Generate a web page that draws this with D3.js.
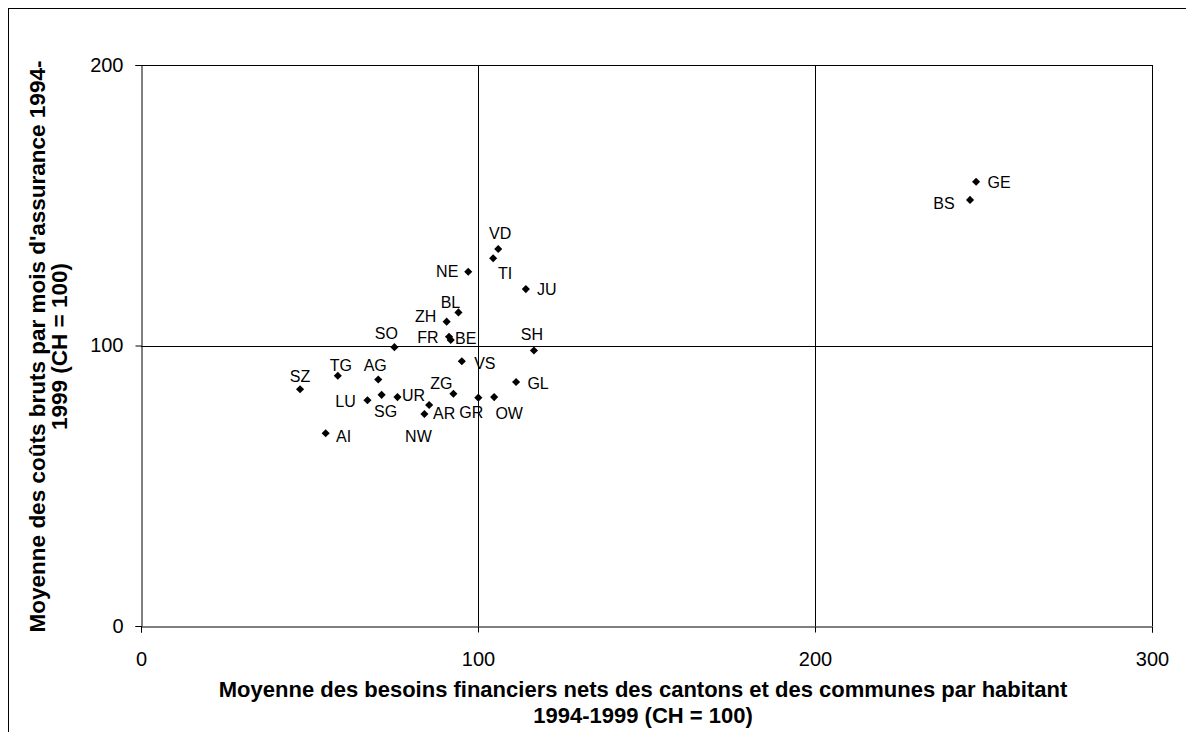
<!DOCTYPE html>
<html><head><meta charset="utf-8">
<script src="https://cdn.jsdelivr.net/npm/d3@7"></script>
<style>body{margin:0;background:#fff}svg{display:block}text{font-family:Arial,"Liberation Sans",sans-serif;fill:#000}</style>
</head><body><svg id="c" width="1186" height="732"></svg>
<script>
const cantons = ["VD","TI","NE","JU","BL","ZH","FR","BE","SO","SH","VS","TG","AG","SZ","GL","ZG","LU","SG","UR","GR","OW","AR","NW","AI","GE","BS"];
const besoins = [106.0,104.5,97.1,114.2,94.2,90.7,91.4,91.9,75.2,116.6,95.2,58.4,70.4,47.2,111.3,92.7,67.2,71.4,76.1,100.1,104.8,85.5,84.1,54.8,247.8,246.0];
const couts   = [134.4,131.1,126.3,120.1,111.8,108.5,103.1,102.0,99.4,98.2,94.4,89.2,87.9,84.4,87.0,82.8,80.5,82.4,81.6,81.4,81.6,78.8,75.6,68.7,158.4,151.9];
const xTicks = [0,100,200,300];
const yTicks = [0,100,200];
const xTitle = ["Moyenne des besoins financiers nets des cantons et des communes par habitant","1994-1999 (CH = 100)"];
const yTitle = ["Moyenne des coûts bruts par mois d'assurance 1994-","1999 (CH = 100)"];

// label placement (dx, dy from marker)
const labelPos = {VD:[2,-16],TI:[12,15],NE:[-21,0],JU:[21,0],BL:[-8,-10],ZH:[-21,-5],FR:[-21,0],BE:[15,-2],SO:[-8,-14],SH:[-2,-16],VS:[23,2],TG:[3,-11],AG:[-3,-14],SZ:[0,-13],GL:[22,1],ZG:[-12,-11],LU:[-22,1],SG:[4,16],UR:[16,-2],GR:[-7,15],OW:[15,16],AR:[15,8],NW:[-6,22],AI:[18,3],GE:[23,1],BS:[-26,3]};

const svg = d3.select("#c");
const L=141,R=1152,T=65,B=626;
const x = d3.scaleLinear().domain([0,300]).range([L,R]);
const y = d3.scaleLinear().domain([0,200]).range([B,T]);
const FONT = "Arial,'Liberation Sans',sans-serif";

// outer frame
svg.append("rect").attr("x",8.5).attr("y",8.5).attr("width",1200).attr("height",800).attr("fill","none").attr("stroke","#000").attr("stroke-width",1);

// grid
const g = svg.append("g");
g.selectAll(".hg").data([100,200]).enter().append("line").attr("x1",L).attr("x2",R).attr("y1",d=>Math.round(y(d))+0.5).attr("y2",d=>Math.round(y(d))+0.5).attr("stroke","#000");
g.selectAll(".vg").data([100,200,300]).enter().append("line").attr("y1",T).attr("y2",B).attr("x1",d=>Math.round(x(d))+0.5).attr("x2",d=>Math.round(x(d))+0.5).attr("stroke","#000");

// axes
const xa = svg.append("g").attr("transform",`translate(0,${B+0.5})`).call(d3.axisBottom(x).tickValues(xTicks).tickSize(6).tickPadding(19).tickFormat(d3.format("d")));
const ya = svg.append("g").attr("transform",`translate(${L+0.5},0)`).call(d3.axisLeft(y).tickValues(yTicks).tickSize(6).tickPadding(12).tickFormat(d3.format("d")));
[xa,ya].forEach(a=>{
  a.attr("font-size",20).attr("font-family",FONT);
  a.select(".domain").attr("stroke","#000");
  a.selectAll("line").attr("stroke","#000");
  a.selectAll("text").style("font-size","20px").style("font-family",FONT).attr("fill","#000");
});

// titles
svg.append("g").selectAll("text").data(xTitle).enter().append("text")
  .attr("x",643).attr("y",(d,i)=>697+i*26).attr("text-anchor","middle")
  .style("font-size","22px").style("font-weight","bold").text(d=>d);
svg.append("g").selectAll("text").data(yTitle).enter().append("text")
  .attr("transform",(d,i)=>`translate(${45+i*22},${(T+B)/2+1}) rotate(-90)`).attr("text-anchor","middle")
  .style("font-size","22.5px").style("font-weight","bold").text(d=>d);

// points
const pts = cantons.map((c,i)=>({c,x:besoins[i],y:couts[i]}));
svg.append("g").selectAll("path").data(pts).enter().append("path")
  .attr("d",d3.symbol(d3.symbolDiamond2,42)).attr("transform",d=>`translate(${x(d.x)},${y(d.y)})`).attr("fill","#000");
svg.append("g").selectAll("text").data(pts).enter().append("text")
  .attr("x",d=>x(d.x)+labelPos[d.c][0]).attr("y",d=>y(d.y)+labelPos[d.c][1]).attr("dy","0.36em")
  .attr("text-anchor","middle").style("font-size","16px").text(d=>d.c);
</script></body></html>
